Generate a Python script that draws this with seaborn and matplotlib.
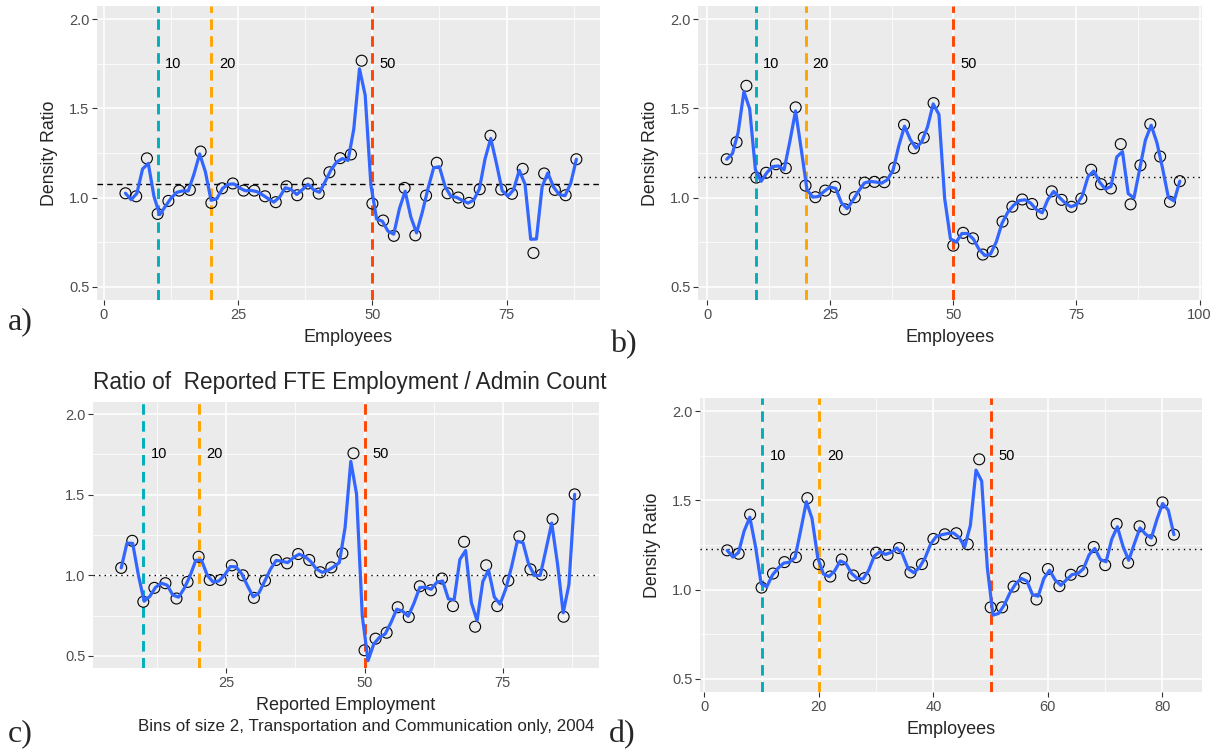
import numpy as np
import matplotlib
matplotlib.use("Agg")
import matplotlib.pyplot as plt
from matplotlib.ticker import MultipleLocator, AutoMinorLocator
import seaborn as sns

# panel a
a_x = list(range(4, 90, 2))
a_y = [1.024, 1.007, 1.22, 0.908, 0.981, 1.039, 1.043, 1.258, 0.970, 1.052,
       1.079, 1.039, 1.039, 1.007, 0.974, 1.063, 1.013, 1.079, 1.022, 1.142,
       1.221, 1.242, 1.768, 0.966, 0.871, 0.785, 1.054, 0.788, 1.011, 1.195,
       1.024, 1.0, 0.970, 1.047, 1.347, 1.045, 1.021, 1.161, 0.689, 1.135,
       1.043, 1.013, 1.215]
a_ref = 1.077

# panel b (no bin at 48)
b_x = list(range(4, 48, 2)) + list(range(50, 98, 2))
b_y = [1.215, 1.311, 1.627, 1.112, 1.139, 1.187, 1.165, 1.506, 1.067, 1.002,
       1.039, 1.06, 0.934, 1.002, 1.084, 1.088, 1.086, 1.167, 1.408, 1.277,
       1.337, 1.53,
       0.730, 0.802, 0.771, 0.68, 0.698, 0.865, 0.949, 0.989, 0.964, 0.908,
       1.035, 0.987, 0.948, 0.994, 1.156, 1.075, 1.051, 1.3, 0.962, 1.181,
       1.412, 1.23, 0.976, 1.092]
b_ref = 1.114

# panel c
c_x = list(range(6, 90, 2))
c_y = [1.046, 1.214, 0.836, 0.922, 0.951, 0.856, 0.959, 1.115, 0.971, 0.971,
       1.062, 1.0, 0.86, 0.967, 1.095, 1.074, 1.132, 1.095, 1.019, 1.049,
       1.136, 1.757, 0.535, 0.607, 0.644, 0.802, 0.741, 0.932, 0.907, 0.98,
       0.809, 1.208, 0.681, 1.062, 0.809, 0.967, 1.241, 1.037, 1.004, 1.348,
       0.743, 1.502]
c_ref = 1.0

# panel d
d_x = list(range(4, 84, 2))
d_y = [1.22, 1.201, 1.421, 1.011, 1.09, 1.154, 1.182, 1.513, 1.143, 1.073,
       1.169, 1.079, 1.064, 1.207, 1.194, 1.233, 1.096, 1.143, 1.284, 1.31,
       1.316, 1.254, 1.731, 0.9, 0.9, 1.017, 1.064, 0.944, 1.115, 1.019,
       1.083, 1.103, 1.239, 1.137, 1.368, 1.15, 1.355, 1.276, 1.489, 1.308]
d_ref = 1.229

cutoffs = [10, 20, 50]
cutoff_colors = ["#00AFBB", "#FFA500", "#FF4500"]

W, H = 1217, 752
FONT = "Liberation Sans"


def smooth(x, y, n=80, h=1.2):
    # local quadratic kernel smoother on n points (loess-like, as geom_smooth)
    x = np.asarray(x, float)
    y = np.asarray(y, float)
    grid = np.linspace(x.min(), x.max(), n)
    out = []
    for g in grid:
        w = np.exp(-0.5 * ((x - g) / h) ** 2)
        X = np.column_stack([np.ones_like(x), x - g, (x - g) ** 2])
        Xw = X.T * w
        out.append(np.linalg.solve(Xw @ X, Xw @ y)[0])
    return grid, np.array(out)


def box(x0, y0, x1, y1):
    return [x0 / W, 1 - y1 / H, (x1 - x0) / W, (y1 - y0) / H]


sns.set_theme(style="darkgrid")
plt.rcParams["font.family"] = [FONT, "DejaVu Sans"]
plt.rcParams["axes.facecolor"] = "#EBEBEB"

fig = plt.figure(figsize=(W / 100, H / 100), dpi=100)


def panel(rect, xs, ys, ref, ref_style, xlim, xstep, xlabel, ylabel=True):
    ax = fig.add_axes(rect)
    ax.set_facecolor("#EBEBEB")
    for s in ax.spines.values():
        s.set_visible(False)
    ax.axhline(ref, color="black", lw=1.0, ls=ref_style, zorder=2)
    for c, col in zip(cutoffs, cutoff_colors):
        ax.axvline(c, color=col, lw=2.1, ls=(0, (3.6, 2.2)), zorder=3)
        ax.text(c + 1.4, 1.75, str(c), ha="left", va="center", fontsize=10.5, color="black")
    sns.scatterplot(x=xs, y=ys, ax=ax, marker="o", s=62, facecolor="none",
                    edgecolor="black", linewidth=0.8, zorder=4)
    gx, gy = smooth(xs, ys)
    sns.lineplot(x=gx, y=gy, ax=ax, color="#3366FF", lw=2.3, zorder=5)
    ax.set_xlim(*xlim)
    ax.set_ylim(0.425, 2.075)
    ax.xaxis.set_major_locator(MultipleLocator(xstep))
    ax.xaxis.set_minor_locator(AutoMinorLocator(2))
    ax.yaxis.set_major_locator(MultipleLocator(0.5))
    ax.yaxis.set_minor_locator(AutoMinorLocator(2))
    ax.grid(which="major", color="white", lw=1.1)
    ax.grid(which="minor", color="white", lw=0.55)
    ax.tick_params(which="major", length=3.5, width=0.8, color="#333333",
                   labelcolor="#4D4D4D", labelsize=10.5, pad=2, bottom=True, left=True)
    ax.tick_params(which="minor", length=0)
    ax.set_xlabel(xlabel, fontsize=13, labelpad=5)
    if ylabel:
        ax.set_ylabel("Density Ratio", fontsize=12.8, labelpad=8)
    else:
        ax.set_ylabel("")
    return ax


ax_a = panel(box(97, 6, 600, 300), a_x, a_y, a_ref, (0, (4, 3)), (-1.3, 92.4), 25, "Employees")
ax_b = panel(box(698, 6, 1202, 300), b_x, b_y, b_ref, (0, (1, 3)), (-1.83, 100.5), 25, "Employees")
ax_c = panel(box(93, 402, 599, 668), c_x, c_y, c_ref, (0, (1, 3)), (0.9, 92.4), 25,
             "Reported Employment", ylabel=False)
ax_d = panel(box(700, 398, 1202, 692), d_x, d_y, d_ref, (0, (1, 3)), (-0.75, 86.9), 20, "Employees")

fig.text(350 / W, 1 - 383 / H, "Ratio of  Reported FTE Employment / Admin Count",
         ha="center", va="center", fontsize=16.3)
fig.text(366 / W, 1 - 727 / H, "Bins of size 2, Transportation and Communication only, 2004",
         ha="center", va="center", fontsize=12.2)

for lab, px, py in [("a)", 8, 322), ("b)", 610, 345), ("c)", 8, 734), ("d)", 609, 735)]:
    fig.text(px / W, 1 - py / H, lab, ha="left", va="center", fontsize=23,
             family=["Liberation Serif", "DejaVu Serif"])

fig.savefig("out.png", dpi=100)
